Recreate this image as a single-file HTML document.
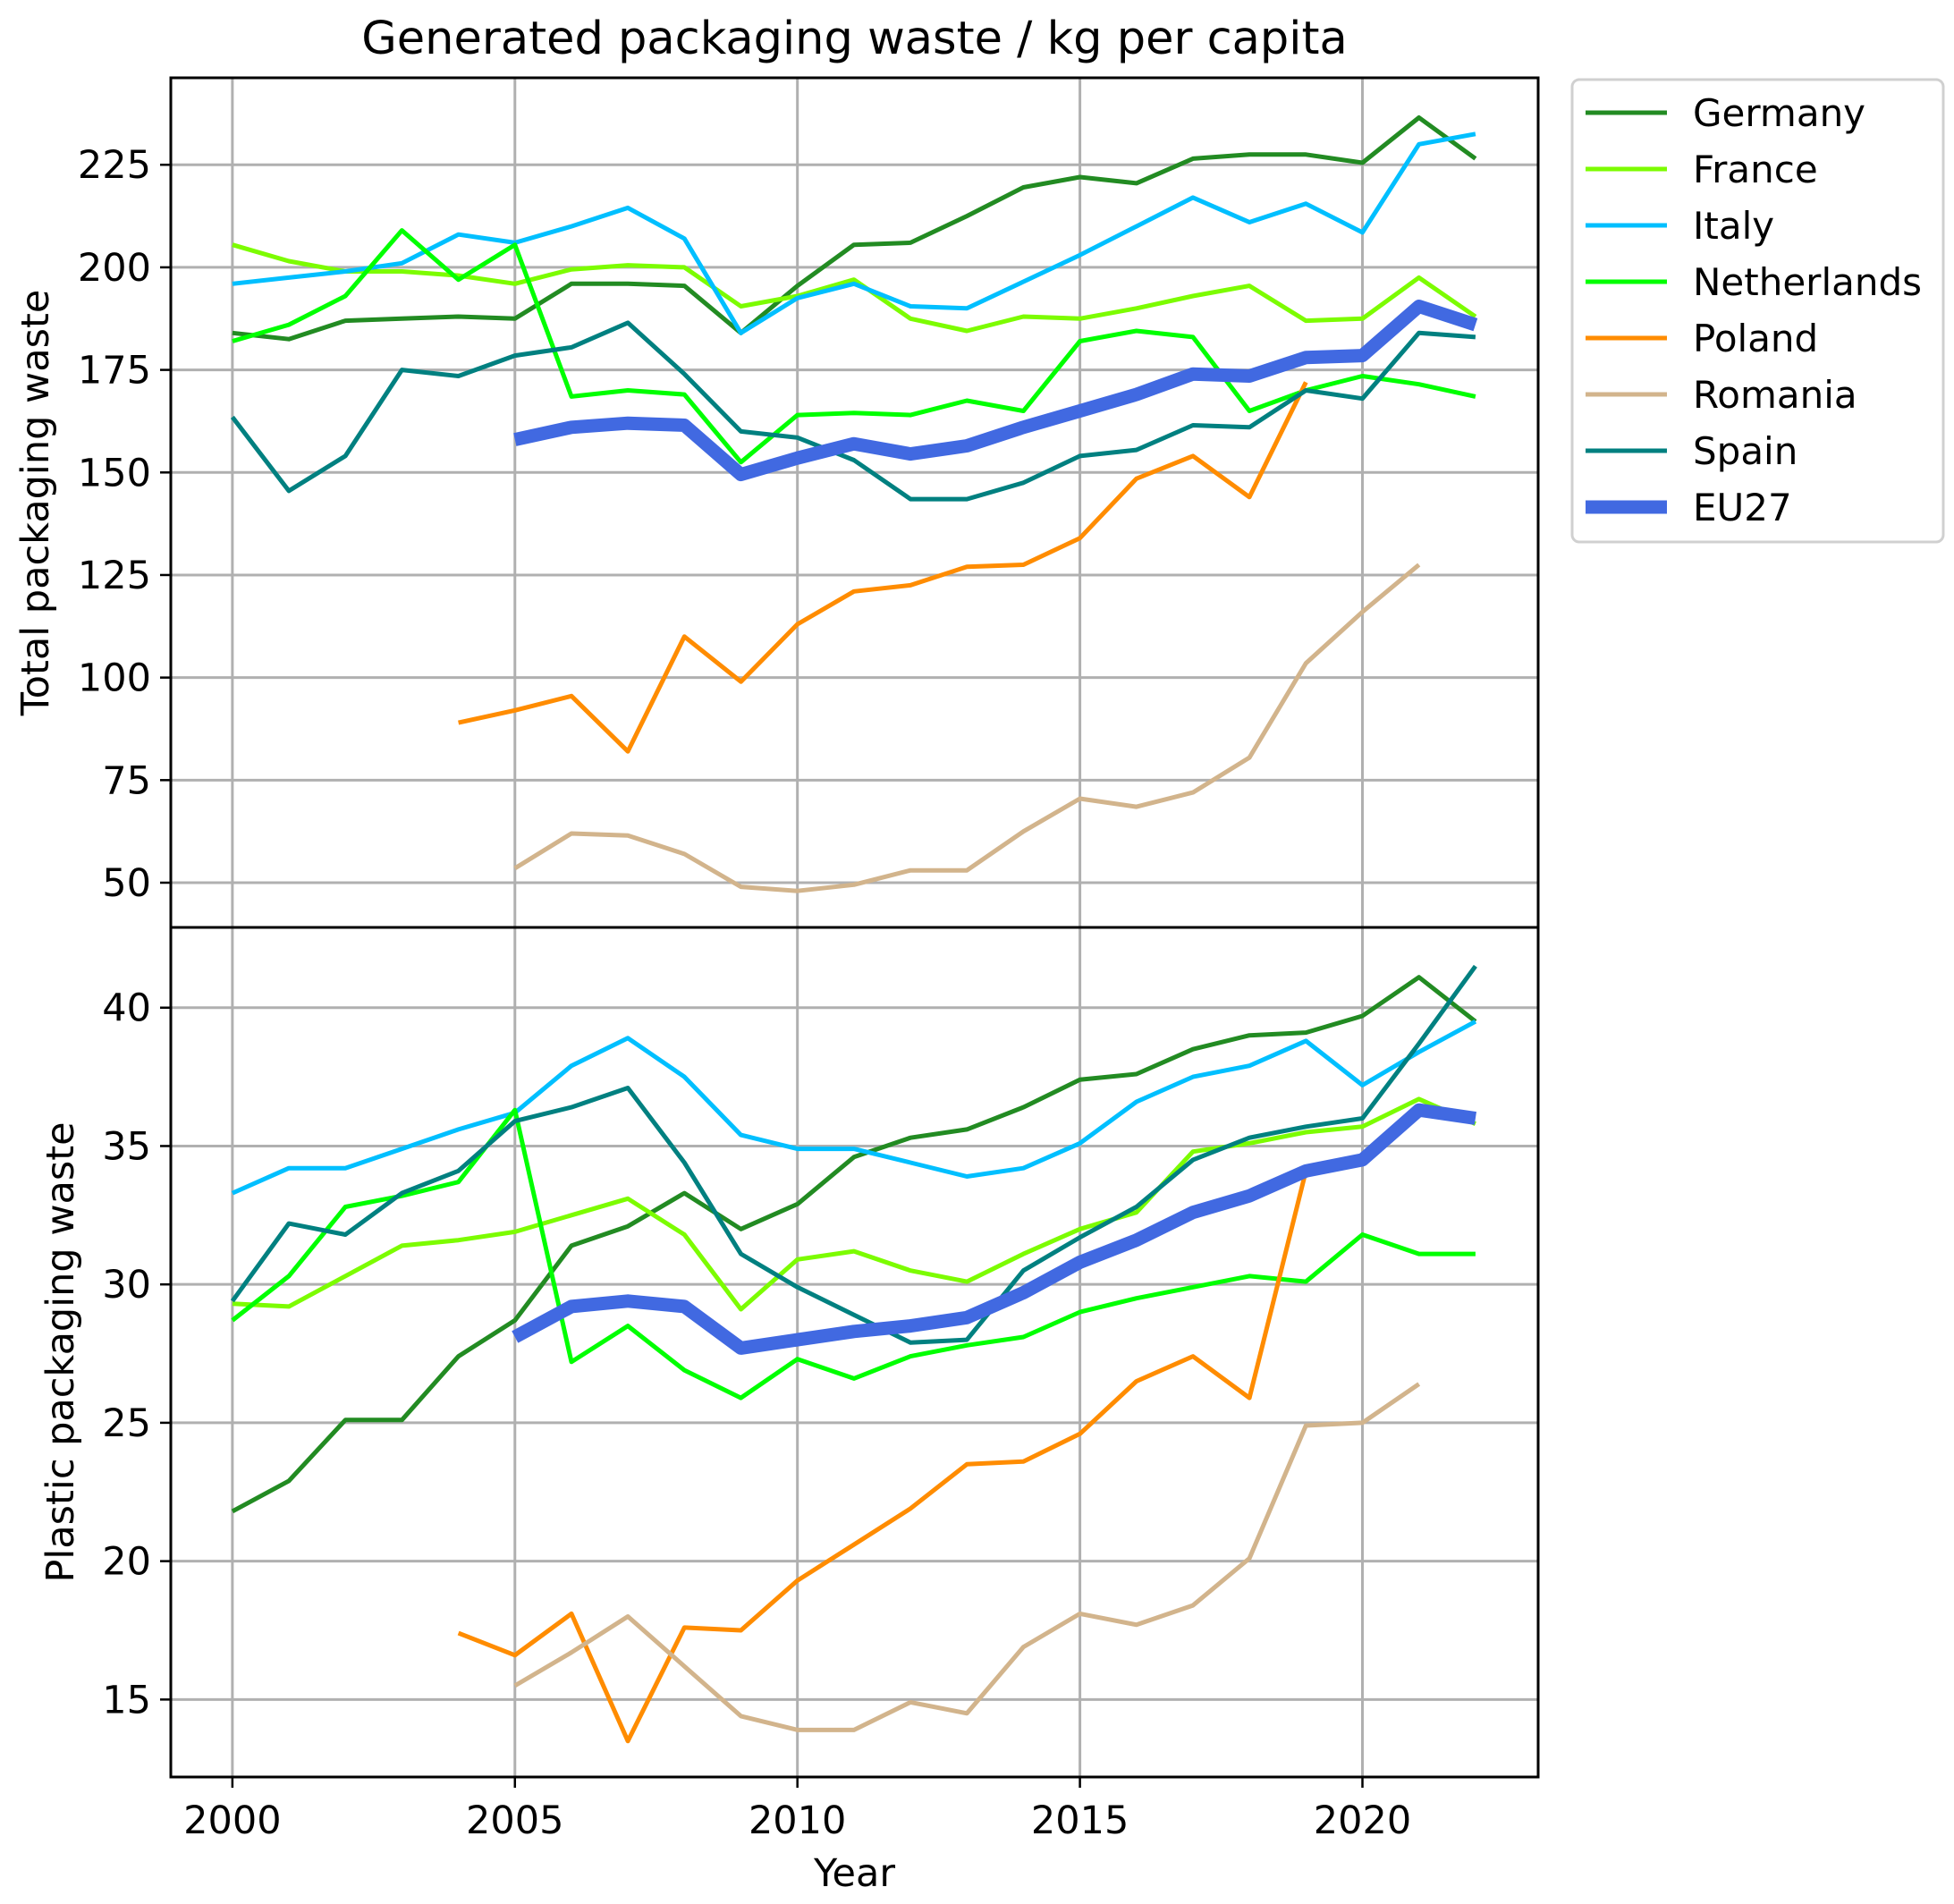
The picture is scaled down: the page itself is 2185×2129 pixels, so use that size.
<!DOCTYPE html>
<html><head><meta charset="utf-8"><style>
html,body{margin:0;padding:0;background:#fff;}
svg{display:block;font-family:"DejaVu Sans","Liberation Sans",sans-serif;}
</style></head><body>
<svg id="chart" width="2185" height="2129" viewBox="0 0 2185 2129"></svg>
<script>
const years = Array.from({length:23},(_,i)=>2000+i);
const seriesNames = ["Germany","France","Italy","Netherlands","Poland","Romania","Spain","EU27"];
const seriesColors = ["#228b22","#7cfc00","#00bfff","#00ff00","#ff8c00","#d2b48c","#008080","#4169e1"];
const N = null;
const totalGermany = [184,182.5,187,187.5,188,187.5,196,196,195.5,184,195.5,205.5,206,212.5,219.5,222,220.5,226.5,227.5,227.5,225.5,236.5,226.5];
const totalFrance = [205.5,201.5,199,199,198,196,199.5,200.5,200,190.5,193,197,187.5,184.5,188,187.5,190,193,195.5,187,187.5,197.5,188];
const totalItaly = [196,197.5,199,201,208,206,210,214.5,207,184,192.5,196,190.5,190,196.5,203,210,217,211,215.5,208.5,230,232.5];
const totalNetherlands = [182,186,193,209,197,205.5,168.5,170,169,152.5,164,164.5,164,167.5,165,182,184.5,183,165,170,173.5,171.5,168.5];
const totalPoland = [N,N,N,N,89,92,95.5,82,110,99,113,121,122.5,127,127.5,134,148.5,154,144,172,N,N,N];
const totalRomania = [N,N,N,N,N,53.5,62,61.5,57,49,48,49.5,53,53,62.5,70.5,68.5,72,80.5,103.5,116,127.5,N];
const totalSpain = [163.5,145.5,154,175,173.5,178.5,180.5,186.5,174,160,158.5,153,143.5,143.5,147.5,154,155.5,161.5,161,170,168,184,183];
const totalEU27 = [N,N,N,N,N,158,161,162,161.5,149.5,153.5,157,154.5,156.5,161,165,169,174,173.5,178,178.5,190.5,186];
const plasticGermany = [21.8,22.9,25.1,25.1,27.4,28.7,31.4,32.1,33.3,32,32.9,34.6,35.3,35.6,36.4,37.4,37.6,38.5,39,39.1,39.7,41.1,39.5];
const plasticFrance = [29.3,29.2,30.3,31.4,31.6,31.9,32.5,33.1,31.8,29.1,30.9,31.2,30.5,30.1,31.1,32,32.6,34.8,35.1,35.5,35.7,36.7,35.8];
const plasticItaly = [33.3,34.2,34.2,34.9,35.6,36.2,37.9,38.9,37.5,35.4,34.9,34.9,34.4,33.9,34.2,35.1,36.6,37.5,37.9,38.8,37.2,38.4,39.5];
const plasticNetherlands = [28.7,30.3,32.8,33.2,33.7,36.3,27.2,28.5,26.9,25.9,27.3,26.6,27.4,27.8,28.1,29,29.5,29.9,30.3,30.1,31.8,31.1,31.1];
const plasticPoland = [N,N,N,N,17.4,16.6,18.1,13.5,17.6,17.5,19.3,20.6,21.9,23.5,23.6,24.6,26.5,27.4,25.9,34.1,N,N,N];
const plasticRomania = [N,N,N,N,N,15.5,16.7,18,16.2,14.4,13.9,13.9,14.9,14.5,16.9,18.1,17.7,18.4,20.1,24.9,25,26.4,N];
const plasticSpain = [29.4,32.2,31.8,33.3,34.1,35.9,36.4,37.1,34.4,31.1,29.9,28.9,27.9,28,30.5,31.7,32.8,34.5,35.3,35.7,36,38.7,41.5];
const plasticEU27 = [N,N,N,N,N,28.1,29.2,29.4,29.2,27.7,28,28.3,28.5,28.8,29.7,30.8,31.6,32.6,33.2,34.1,34.5,36.3,36];
const xTicks = [2000,2005,2010,2015,2020];
const topTicks = [50,75,100,125,150,175,200,225];
const bottomTicks = [15,20,25,30,35,40];

const svg = document.getElementById('chart');
const NS = 'http://www.w3.org/2000/svg';
function mk(tag, attrs, parent){const e=document.createElementNS(NS,tag);for(const k in attrs)e.setAttribute(k,attrs[k]);(parent||svg).appendChild(e);return e;}
const L=191,R=1720,T=87,MID=1037,B=1987;
const xMin=1998.91,xMax=2023.11;
const x = v => L+(v-xMin)/(xMax-xMin)*(R-L);
const panels = [
 {name:'total',top:T,bot:MID,min:39.1,max:246.2,ticks:topTicks,data:[totalGermany,totalFrance,totalItaly,totalNetherlands,totalPoland,totalRomania,totalSpain,totalEU27],label:'Total packaging waste',lx:39},
 {name:'plastic',top:MID,bot:B,min:12.2,max:42.9,ticks:bottomTicks,data:[plasticGermany,plasticFrance,plasticItaly,plasticNetherlands,plasticPoland,plasticRomania,plasticSpain,plasticEU27],label:'Plastic packaging waste',lx:67}
];
panels.forEach(p=>{
  const y = v => p.bot-(v-p.min)/(p.max-p.min)*(p.bot-p.top);
  const g = mk('g',{});
  
  
  xTicks.forEach(t=>{const l=mk('line',{x1:x(t),x2:x(t),y1:p.top,y2:p.bot,stroke:'#b0b0b0','stroke-width':3},g);
    
    });
  p.ticks.forEach(t=>{const l=mk('line',{x1:L,x2:R,y1:y(t),y2:y(t),stroke:'#b0b0b0','stroke-width':3},g);
    
    
    mk('line',{x1:L-12,x2:L,y1:y(t),y2:y(t),stroke:'#000','stroke-width':2.5},g);
    const tx=mk('text',{x:L-22,y:y(t)+15,'text-anchor':'end','font-size':43},g);tx.textContent=t;
    
    });
  p.data.forEach((arr,si)=>{
    let d='',pen=false;
    arr.forEach((v,i)=>{if(v===null){pen=false;return;}d+=(pen?'L':'M')+x(years[i]).toFixed(1)+','+y(v).toFixed(1);pen=true;});
    const path=mk('path',{d:d,fill:'none',stroke:seriesColors[si],'stroke-width':si===7?15:5,'stroke-linejoin':'round'},g);
    
    
  });
  const yl=mk('text',{x:p.lx,y:(p.top+p.bot)/2,'text-anchor':'middle','font-size':43,transform:`rotate(-90 ${p.lx} ${(p.top+p.bot)/2})`,dy:15},g);
  yl.textContent=p.label;
  
  
});
const frame=mk('rect',{x:L,y:T,width:R-L,height:B-T,fill:'none',stroke:'#000','stroke-width':3});


mk('line',{x1:L,x2:R,y1:MID,y2:MID,stroke:'#000','stroke-width':3});
xTicks.forEach(t=>{mk('line',{x1:x(t),x2:x(t),y1:B,y2:B+12,stroke:'#000','stroke-width':2.5});
  const tx=mk('text',{x:x(t),y:B+63,'text-anchor':'middle','font-size':43});tx.textContent=t;
  
  });
const xt=mk('text',{x:(L+R)/2,y:2109,'text-anchor':'middle','font-size':43});xt.textContent='Year';


const title=mk('text',{x:(L+R)/2,y:60,'text-anchor':'middle','font-size':51});title.textContent='Generated packaging waste / kg per capita';


const lg=mk('g',{});


mk('rect',{x:1758,y:89,width:415,height:517,rx:8,fill:'#fff',stroke:'#d0d0d0','stroke-width':3},lg);
seriesNames.forEach((n,i)=>{
  const yy=126+i*63;
  const ln=mk('line',{x1:1773,x2:1864,y1:yy,y2:yy,stroke:seriesColors[i],'stroke-width':i===7?15:5},lg);
  
  
  const tx=mk('text',{x:1893,y:yy+15,'font-size':42},lg);tx.textContent=n;
  
  
});
</script>
</body></html>
